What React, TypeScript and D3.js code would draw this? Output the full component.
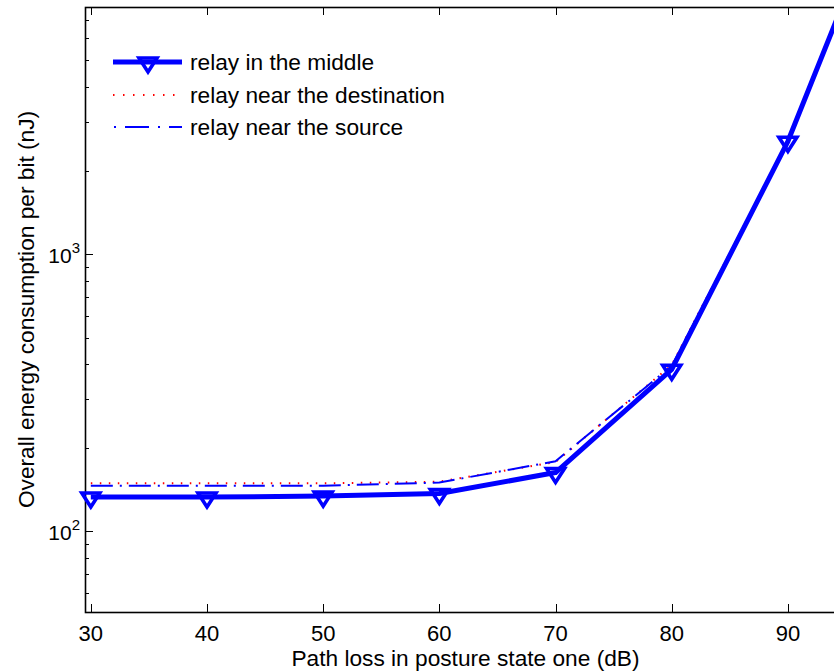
import React, { useEffect, useRef } from "react";
import * as d3 from "d3";

// path loss (dB)
const pathLoss = [30, 40, 50, 60, 70, 80, 90, 95];
// energy per bit (nJ)
const relayMiddle = [133, 133, 134, 137, 163, 384, 2550, 8500];
const relayDest = [149, 149, 149, 151, 178, 398, 2560, 8550];
const relaySource = [146, 146, 146, 150, 179, 395, 2560, 8550];
const xTicks = [30, 40, 50, 60, 70, 80, 90];
const yMajor = [100, 1000];
const legendLabels = ["relay in the middle", "relay near the destination", "relay near the source"];

const W = 834;
const H = 672;
const FONT = "'Liberation Sans', Arial, Helvetica, sans-serif";

export default function App() {
  const ref = useRef<SVGSVGElement>(null);

  useEffect(() => {
    const svg = d3.select(ref.current);
    svg.selectAll("*").remove();

    const left = 85, top = 7, bottom = 612, right = 846;

    const x = d3.scaleLinear().domain([29.5, 95]).range([left, right]);
    const y = d3.scaleLog().domain([51.2, 7777]).range([bottom, top]);

    svg.append("defs").append("clipPath").attr("id", "plotclip")
      .append("rect")
      .attr("x", left).attr("y", top)
      .attr("width", right - left).attr("height", bottom - top);

    // minor log ticks
    const minor: number[] = [];
    for (let d = 10; d <= 1000; d *= 10) {
      for (let k = 2; k <= 9; k++) {
        const v = d * k;
        if (v > 51.2 && v < 7777) minor.push(v);
      }
    }

    const ax = svg.append("g").attr("stroke", "#000").attr("stroke-width", 1);
    ax.selectAll(".ymin").data(minor).enter().append("line")
      .attr("x1", left).attr("x2", left + 4)
      .attr("y1", d => Math.round(y(d)) + 0.5).attr("y2", d => Math.round(y(d)) + 0.5);
    ax.selectAll(".ymaj").data(yMajor).enter().append("line")
      .attr("x1", left).attr("x2", left + 8)
      .attr("y1", d => Math.round(y(d)) + 0.5).attr("y2", d => Math.round(y(d)) + 0.5);
    ax.selectAll(".xb").data(xTicks).enter().append("line")
      .attr("x1", d => Math.round(x(d)) + 0.5).attr("x2", d => Math.round(x(d)) + 0.5)
      .attr("y1", bottom).attr("y2", bottom - 8);
    ax.selectAll(".xt").data(xTicks).enter().append("line")
      .attr("x1", d => Math.round(x(d)) + 0.5).attr("x2", d => Math.round(x(d)) + 0.5)
      .attr("y1", top).attr("y2", top + 8);
    ax.append("rect")
      .attr("x", left + 0.5).attr("y", top + 0.5)
      .attr("width", right - left).attr("height", bottom - top)
      .attr("fill", "none").attr("stroke-width", 1.6);

    // tick labels
    svg.selectAll(".xl").data(xTicks).enter().append("text")
      .attr("x", d => x(d)).attr("y", 641)
      .attr("text-anchor", "middle")
      .style("font-family", FONT).style("font-size", "22px")
      .text(d => d);

    const yl = svg.selectAll(".yl").data(yMajor).enter().append("text")
      .attr("x", 80).attr("y", d => y(d) + 9)
      .attr("text-anchor", "end")
      .style("font-family", FONT).style("font-size", "21px");
    yl.append("tspan").text("10");
    yl.append("tspan").attr("dy", -10).style("font-size", "15px").text(d => Math.round(Math.log10(d)));

    svg.append("text")
      .attr("x", (left + right) / 2).attr("y", 666)
      .attr("text-anchor", "middle")
      .style("font-family", FONT).style("font-size", "22.7px")
      .text("Path loss in posture state one (dB)");

    svg.append("text")
      .attr("transform", `translate(34, ${(top + bottom) / 2}) rotate(-90)`)
      .attr("text-anchor", "middle")
      .style("font-family", FONT).style("font-size", "22.7px")
      .text("Overall energy consumption per bit (nJ)");

    const line = (vals: number[]) =>
      d3.line<number>().x((_, i) => x(pathLoss[i])).y(d => y(d))(vals);

    const plot = svg.append("g").attr("clip-path", "url(#plotclip)");
    plot.append("path").attr("d", line(relayDest))
      .attr("fill", "none").attr("stroke", "#ff0000")
      .attr("stroke-width", 2).attr("stroke-dasharray", "1.5 7.5");
    plot.append("path").attr("d", line(relaySource))
      .attr("fill", "none").attr("stroke", "#0000ff")
      .attr("stroke-width", 2).attr("stroke-dasharray", "22 7 2 7");
    plot.append("path").attr("d", line(relayMiddle))
      .attr("fill", "none").attr("stroke", "#0000ff")
      .attr("stroke-width", 5).attr("stroke-linejoin", "round");

    const tri = "M-9,-4L9,-4L0,10Z";
    svg.selectAll(".mk").data(relayMiddle.filter((_, i) => pathLoss[i] <= 90)).enter()
      .append("path")
      .attr("d", tri)
      .attr("transform", (d, i) => `translate(${x(pathLoss[i])},${y(d)})`)
      .attr("fill", "none").attr("stroke", "#0000ff").attr("stroke-width", 3.6);

    // legend
    const lg = svg.append("g");
    const rows = [62, 95, 127];
    lg.append("line").attr("x1", 113).attr("x2", 182).attr("y1", rows[0]).attr("y2", rows[0])
      .attr("stroke", "#0000ff").attr("stroke-width", 5);
    lg.append("path").attr("d", tri).attr("transform", `translate(148,${rows[0]})`)
      .attr("fill", "none").attr("stroke", "#0000ff").attr("stroke-width", 3.6);
    lg.append("line").attr("x1", 113).attr("x2", 182).attr("y1", rows[1]).attr("y2", rows[1])
      .attr("stroke", "#ff0000").attr("stroke-width", 2).attr("stroke-dasharray", "1.5 8.5");
    lg.append("line").attr("x1", 114).attr("x2", 182).attr("y1", rows[2]).attr("y2", rows[2])
      .attr("stroke", "#0000ff").attr("stroke-width", 2).attr("stroke-dasharray", "2 9 24 9");
    lg.selectAll(".lt").data(legendLabels).enter().append("text")
      .attr("x", 190).attr("y", (_, i) => rows[i] + 8)
      .style("font-family", FONT).style("font-size", "22.7px")
      .text(d => d);
  }, []);

  return (
    <div style={{ position: "absolute", left: 0, top: 0 }}>
      <svg ref={ref} width={W} height={H} style={{ display: "block", background: "#fff" }} />
    </div>
  );
}
